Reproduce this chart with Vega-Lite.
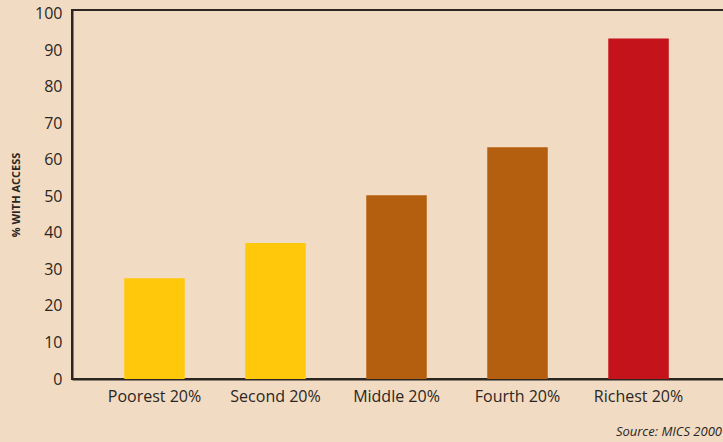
{
  "$schema": "https://vega.github.io/schema/vega-lite/v6.json",
  "width": 660,
  "height": 369,
  "autosize": "none",
  "padding": {"left": 72, "top": 10, "right": 0, "bottom": 63},
  "background": "#F2DBC3",
  "config": {
    "view": {"stroke": "#2B2622", "strokeWidth": 2},
    "font": "Open Sans",
    "axis": {
      "labelFont": "Open Sans",
      "labelColor": "#2B2622",
      "labelFontSize": 16,
      "domainColor": "#2B2622",
      "domainWidth": 2,
      "ticks": false,
      "grid": false
    }
  },
  "data": {
    "values": [
      {"group": "Poorest 20%", "pct": 27.6},
      {"group": "Second 20%", "pct": 37.2},
      {"group": "Middle 20%", "pct": 50.3},
      {"group": "Fourth 20%", "pct": 63.4},
      {"group": "Richest 20%", "pct": 93.2}
    ]
  },
  "mark": {"type": "bar"},
  "encoding": {
    "x": {
      "field": "group",
      "type": "nominal",
      "sort": null,
      "scale": {"paddingInner": 0.5, "paddingOuter": 0.477, "align": 0.4524},
      "axis": {"title": null, "labelAngle": 0, "labelPadding": 9}
    },
    "y": {
      "field": "pct",
      "type": "quantitative",
      "scale": {"domain": [0, 101], "nice": false},
      "axis": {
        "values": [0, 10, 20, 30, 40, 50, 60, 70, 80, 90, 100],
        "labelPadding": 10,
        "title": "% WITH ACCESS",
        "titleFont": "Open Sans",
        "titleFontSize": 11,
        "titleFontWeight": "bold",
        "titleColor": "#2B2622",
        "titlePadding": 13
      }
    },
    "color": {
      "field": "group",
      "type": "nominal",
      "scale": {
        "domain": ["Poorest 20%", "Second 20%", "Middle 20%", "Fourth 20%", "Richest 20%"],
        "range": ["#FFC80B", "#FFC80B", "#B45F0F", "#B45F0F", "#C4131B"]
      },
      "legend": null
    }
  },
  "title": {
    "text": "Source: MICS 2000",
    "orient": "bottom",
    "anchor": "end",
    "font": "Open Sans",
    "fontStyle": "italic",
    "fontWeight": "normal",
    "fontSize": 13,
    "color": "#2B2622",
    "offset": 22,
    "dx": -10
  }
}
